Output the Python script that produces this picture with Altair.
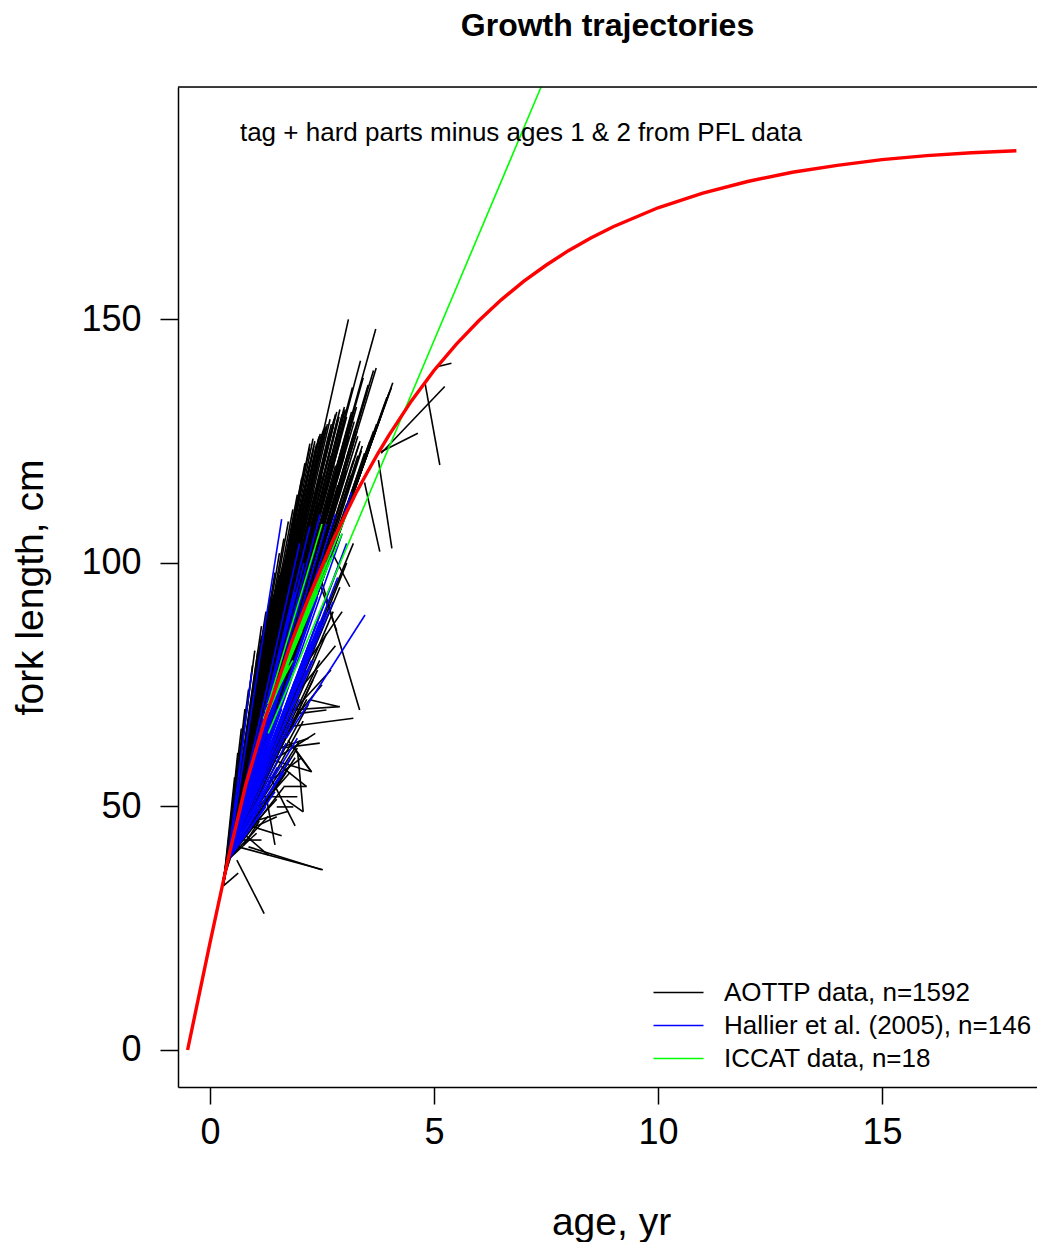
import altair as alt
import pandas as pd

# ---------------- data ----------------
# Red growth curve (age, fork length)
curve_age = [-0.5, 0.0, 0.4, 0.8, 1.25, 1.8, 2.2, 2.75, 3.25, 3.5, 3.75, 4.0, 4.5, 5.0,
             5.5, 6.0, 6.5, 7.0, 7.5, 8.0, 8.5, 9.0, 10.0, 11.0, 12.0, 13.0, 14.0,
             15.0, 16.0, 17.0, 18.0]
curve_len = [0.0, 22.0, 39.0, 54.5, 68.5, 83.3, 92.8, 104.7, 114.2, 118.4, 122.5, 126.3,
             133.3, 139.5, 144.9, 149.7, 154.0, 157.8, 161.1, 164.1, 166.7, 169.0, 172.9,
             175.9, 178.3, 180.2, 181.6, 182.8, 183.6, 184.2, 184.6]

# AOTTP trajectories: start age, start length, end age, end length
aottp_x0 = [0.40, 0.45, 0.40, 0.50, 0.40, 0.45, 0.35, 0.40, 0.50, 0.40, 0.45, 0.40,
            0.35, 0.45, 0.40, 0.50, 0.40, 0.45, 0.40, 0.35, 0.45, 0.40, 0.50, 0.40,
            0.45, 0.40, 0.35, 0.40, 0.45, 0.40, 0.50, 0.40, 0.45, 0.40, 0.35, 0.40,
            0.45, 0.40, 0.50, 0.40, 0.45, 0.40, 0.35, 0.40, 0.45, 0.40, 0.50, 0.40,
            0.40, 0.35, 0.40, 0.45, 0.40, 0.50, 0.40, 0.45, 0.40, 0.40,
            0.55, 0.30, 0.55, 0.30, 0.55, 0.30, 0.55, 0.30, 0.55, 0.30, 0.55, 0.30,
            0.55, 0.30, 0.55, 0.30, 0.55, 0.30, 0.55, 0.30, 0.55, 0.30, 0.55, 0.30,
            0.55, 0.30, 0.55, 0.30, 0.55, 0.30, 0.55, 0.30, 0.55, 0.30, 0.55, 0.30,
            0.55, 0.30, 0.55, 0.30,
            0.40, 0.45, 0.40, 0.50, 0.40, 0.45, 0.40, 0.50, 0.40, 0.45, 0.40, 0.50,
            0.40, 0.45, 0.40, 0.50, 0.40, 0.45, 0.40, 0.45,
            0.30, 0.35, 0.30, 0.35, 0.30, 0.35, 0.30, 0.35, 0.30, 0.35, 0.30, 0.35,
            0.30, 0.35, 0.30, 0.35, 0.30, 0.35, 0.30, 0.35,
            0.40, 0.45, 0.40, 0.50, 0.40, 0.45, 0.40, 0.50, 0.40, 0.45, 0.40, 0.45,
            0.40, 0.50, 0.40, 0.45, 0.40, 0.50, 0.40, 0.45,
            0.60, 0.75, 0.60, 0.75, 0.60, 0.90, 0.75, 0.60, 0.90, 0.75, 0.60, 0.90,
            0.75, 0.60, 0.90, 0.75,
            0.40, 0.45, 0.40, 0.50, 0.40, 0.45, 0.40, 0.50, 0.40, 0.45, 0.40, 0.40,
            0.40, 0.45, 0.40, 0.50, 0.40, 0.45, 0.40, 0.40,
            0.86, 0.60, 0.30, 1.27, 1.00, 0.71, 1.71, 1.41, 1.64, 1.49, 1.79, 2.23,
            2.00, 2.45, 3.45, 3.76, 4.80, 3.82, 3.82, 5.09, 2.62, 0.63, 1.74, 1.96,
            1.59, 1.86, 1.79, 2.40,
            0.90, 1.10, 1.30, 1.20, 1.50, 1.60, 1.00, 1.35, 1.70, 1.90, 2.00, 2.20,
            0.80, 0.75, 1.55]
aottp_y0 = [39.0, 41.0, 39.0, 43.5, 39.0, 41.0, 37.0, 39.0, 43.5, 39.0, 41.0, 39.0,
            37.0, 41.0, 39.0, 43.5, 39.0, 41.0, 39.0, 37.0, 41.0, 39.0, 43.5, 39.0,
            41.0, 39.0, 37.0, 39.0, 41.0, 39.0, 43.5, 39.0, 41.0, 39.0, 37.0, 39.0,
            41.0, 39.0, 43.5, 39.0, 41.0, 39.0, 37.0, 39.0, 41.0, 39.0, 43.5, 39.0,
            39.0, 37.0, 39.0, 41.0, 39.0, 43.5, 39.0, 41.0, 39.0, 39.0,
            45.5, 35.0, 45.5, 35.0, 45.5, 35.0, 45.5, 35.0, 45.5, 35.0, 45.5, 35.0,
            45.5, 35.0, 45.5, 35.0, 45.5, 35.0, 45.5, 35.0, 45.5, 35.0, 45.5, 35.0,
            45.5, 35.0, 45.5, 35.0, 45.5, 35.0, 45.5, 35.0, 45.5, 35.0, 45.5, 35.0,
            45.5, 35.0, 45.5, 35.0,
            39.0, 41.0, 39.0, 43.5, 39.0, 41.0, 39.0, 43.5, 39.0, 41.0, 39.0, 43.5,
            39.0, 41.0, 39.0, 43.5, 39.0, 41.0, 39.0, 41.0,
            34.0, 36.5, 34.0, 36.5, 34.0, 36.5, 34.0, 36.5, 34.0, 36.5, 34.0, 36.5,
            34.0, 36.5, 34.0, 36.5, 34.0, 36.5, 34.0, 36.5,
            39.0, 41.0, 39.0, 43.5, 39.0, 41.0, 39.0, 43.5, 39.0, 41.0, 39.0, 41.0,
            39.0, 43.5, 39.0, 41.0, 39.0, 43.5, 39.0, 41.0,
            47.0, 52.0, 47.0, 52.0, 47.0, 57.0, 52.0, 47.0, 57.0, 52.0, 47.0, 57.0,
            52.0, 47.0, 57.0, 52.0,
            39.0, 41.0, 39.0, 43.5, 39.0, 41.0, 39.0, 43.5, 39.0, 41.0, 39.0, 39.0,
            39.0, 41.0, 39.0, 43.5, 39.0, 41.0, 39.0, 39.0,
            41.7, 39.0, 33.7, 51.3, 45.8, 43.1, 51.3, 59.5, 54.1, 49.9, 66.4, 71.9,
            69.1, 97.5, 116.5, 121.1, 136.9, 122.5, 122.8, 140.3, 104.0, 41.7, 63.6, 60.9,
            58.2, 62.3, 69.8, 97.0,
            46.0, 50.0, 55.0, 52.0, 60.0, 62.0, 47.0, 56.0, 66.0, 70.0, 74.0, 80.0,
            44.0, 42.0, 62.0]
aottp_x1 = [0.85, 0.95, 1.02, 1.07, 1.15, 1.23, 1.30, 1.38, 1.45, 1.52, 1.60, 1.67,
            1.74, 1.80, 1.87, 1.94, 1.98, 2.03, 2.08, 2.12, 2.16, 2.20, 2.25, 2.30,
            2.34, 2.38, 2.42, 2.46, 2.52, 2.57, 2.62, 2.66, 2.68, 2.75, 2.80, 2.85,
            2.90, 2.95, 3.00, 3.05, 3.13, 3.20, 3.24, 3.27, 3.30, 3.35, 3.40, 3.45,
            3.09, 3.70, 3.36, 3.71, 3.53, 3.65, 3.50, 3.18, 3.42, 2.23,
            0.90, 1.00, 1.10, 1.18, 1.27, 1.34, 1.42, 1.49, 1.56, 1.63, 1.70, 1.77,
            1.84, 1.90, 1.96, 2.01, 2.06, 2.10, 2.14, 2.18, 2.22, 2.27, 2.32, 2.36,
            2.44, 2.49, 2.54, 2.60, 2.71, 2.77, 2.83, 2.88, 2.98, 3.02, 3.10, 3.16,
            3.22, 3.28, 3.33, 3.38,
            1.60, 1.80, 2.00, 2.20, 2.40, 2.60, 2.80, 3.00, 3.20, 1.50, 1.75, 1.95,
            2.15, 2.35, 2.55, 2.75, 2.95, 3.15, 1.40, 1.25,
            0.55, 0.62, 0.70, 0.78, 0.86, 0.95, 1.00, 1.15, 1.25, 1.34, 1.45, 1.55,
            1.65, 1.75, 1.85, 1.95, 2.05, 2.12, 2.22, 2.30,
            1.30, 1.45, 1.65, 1.85, 2.05, 2.25, 2.45, 2.65, 2.85, 3.05, 3.30, 2.50,
            2.70, 2.90, 3.10, 1.20, 1.05, 2.00, 2.15, 2.32,
            4.08, 4.05, 4.00, 3.95, 3.90, 3.85, 3.79, 3.72, 3.65, 3.57, 3.50, 3.42,
            3.35, 3.25, 3.15, 3.05,
            2.60, 2.45, 2.30, 2.16, 2.08, 2.00, 1.90, 1.79, 1.65, 1.49, 1.30, 1.04,
            2.75, 2.90, 3.05, 3.20, 2.40, 2.20, 1.95, 1.70,
            2.49, 1.21, 0.63, 1.45, 1.49, 1.15, 2.08, 2.27, 2.16, 1.86, 3.20, 2.86,
            2.60, 3.34, 3.79, 4.06, 5.13, 5.24, 4.64, 5.39, 3.12, 2.52, 2.26, 2.08,
            2.15, 2.27, 2.90, 2.83,
            1.60, 1.80, 2.05, 1.95, 2.35, 2.45, 1.75, 1.90, 2.50, 2.70, 2.80, 2.95,
            1.30, 1.10, 2.20]
aottp_y1 = [62.0, 70.0, 76.0, 82.0, 85.0, 88.0, 90.0, 92.5, 94.0, 96.5, 98.5, 100.5,
            102.5, 104.5, 106.5, 109.0, 110.5, 112.0, 113.5, 115.0, 117.0, 119.0, 121.0, 123.0,
            125.0, 124.5, 125.5, 126.5, 127.0, 128.0, 128.5, 126.5, 129.5, 128.0, 130.5, 129.5,
            131.5, 130.5, 132.0, 130.0, 129.5, 130.0, 127.5, 132.0, 126.0, 125.0, 124.0, 122.5,
            150.0, 148.0, 141.5, 140.0, 136.5, 139.5, 135.0, 136.0, 138.0, 124.5,
            66.0, 74.0, 80.0, 84.0, 89.0, 90.5, 93.5, 95.0, 97.5, 99.5, 101.5, 103.5,
            105.5, 107.5, 109.5, 111.0, 112.5, 114.5, 116.0, 118.0, 120.0, 122.0, 124.0, 123.5,
            126.0, 126.5, 127.5, 128.0, 128.5, 129.5, 131.0, 130.0, 131.0, 131.5, 128.5, 131.0,
            129.0, 127.0, 124.5, 123.0,
            90.0, 95.0, 100.0, 106.0, 112.0, 116.0, 120.0, 122.0, 121.0, 86.0, 92.0, 97.0,
            102.0, 106.0, 110.0, 114.0, 117.0, 118.0, 82.0, 78.0,
            56.0, 61.0, 66.0, 70.0, 74.0, 79.0, 82.0, 87.0, 90.0, 93.0, 98.0, 102.0,
            105.0, 108.5, 111.0, 114.0, 117.5, 120.5, 123.5, 125.5,
            80.0, 84.0, 88.0, 93.0, 98.0, 104.0, 108.0, 112.0, 116.0, 119.0, 122.0, 118.0,
            122.0, 125.0, 126.0, 74.0, 70.0, 106.0, 110.0, 115.0,
            137.0, 136.0, 135.0, 134.0, 132.5, 131.0, 129.5, 128.5, 127.0, 125.0, 122.0, 120.0,
            118.5, 116.0, 114.0, 112.0,
            85.5, 80.0, 76.0, 72.0, 67.5, 63.5, 60.0, 57.0, 54.0, 51.5, 48.0, 44.5,
            90.0, 95.0, 100.0, 104.0, 78.0, 71.0, 62.0, 57.0,
            37.0, 28.0, 36.3, 42.1, 47.9, 43.1, 48.9, 57.1, 54.1, 49.9, 68.1, 70.5,
            69.8, 69.8, 102.3, 103.0, 120.1, 136.2, 126.6, 141.0, 95.1, 37.0, 57.1, 48.9,
            54.1, 57.1, 70.5, 86.0,
            44.0, 58.5, 60.0, 52.0, 65.0, 63.0, 49.0, 46.0, 75.0, 78.0, 83.0, 90.0,
            40.0, 47.0, 64.0]

# Hallier et al. (2005) trajectories
hallier_x0 = [0.40, 0.40, 0.45, 0.40, 0.45, 0.40, 0.50, 0.40, 0.45, 0.40, 0.50, 0.40,
              0.45, 0.40, 0.40, 0.45, 0.40, 0.50, 0.40, 0.45, 0.40, 0.45, 0.40, 0.40,
              0.45, 0.40, 0.50, 0.40, 0.45, 0.40, 0.40, 0.45, 0.40, 0.40, 0.45, 0.40,
              0.40, 0.40, 1.70, 1.79, 0.40, 0.45, 0.40, 0.40,
              0.40, 0.45, 0.40, 0.45, 0.40, 0.45, 0.40, 0.45, 0.40]
hallier_y0 = [39.0, 39.0, 41.0, 39.0, 41.0, 39.0, 43.5, 39.0, 41.0, 39.0, 43.5, 39.0,
              41.0, 39.0, 39.0, 41.0, 39.0, 43.5, 39.0, 41.0, 39.0, 41.0, 39.0, 39.0,
              41.0, 39.0, 43.5, 39.0, 41.0, 39.0, 39.0, 41.0, 39.0, 39.0, 41.0, 39.0,
              39.0, 39.0, 64.0, 70.0, 39.0, 41.0, 39.0, 39.0,
              39.0, 41.0, 39.0, 41.0, 39.0, 41.0, 39.0, 41.0, 39.0]
hallier_x1 = [0.93, 1.60, 0.74, 2.00, 2.23, 2.46, 2.10, 1.90, 2.35, 2.60, 2.80, 3.16,
              3.05, 2.95, 3.05, 2.90, 2.68, 2.75, 2.50, 2.30, 2.15, 2.00, 1.85, 1.70,
              1.50, 1.34, 2.20, 1.95, 1.75, 2.55, 1.50, 1.35, 2.40, 2.85, 1.65, 1.25,
              1.60, 1.90, 3.46, 2.27, 2.20, 2.45, 1.30, 1.10,
              1.45, 1.65, 1.80, 1.95, 1.25, 2.60, 2.25, 1.55, 2.05]
hallier_y1 = [77.5, 109.0, 63.5, 104.0, 107.5, 110.0, 100.0, 94.0, 103.0, 108.0, 110.0, 114.5,
              111.0, 106.0, 104.0, 100.0, 95.0, 92.0, 88.0, 80.0, 78.0, 72.0, 68.0, 63.0,
              58.0, 54.5, 88.0, 85.0, 82.0, 98.0, 70.0, 64.0, 93.0, 97.0, 78.0, 67.0,
              70.0, 76.0, 89.3, 80.0, 83.0, 88.0, 60.0, 56.0,
              53.0, 57.0, 60.0, 64.0, 50.0, 90.0, 84.0, 66.0, 79.0]

# ICCAT trajectories
iccat_x0 = [1.30, 1.20, 1.25, 1.15, 1.30, 1.20, 1.25, 1.15, 1.30, 1.20, 1.25, 1.30,
            1.20, 1.25, 1.15, 1.30, 1.20, 1.25]
iccat_y0 = [65.0, 68.0, 69.5, 66.0, 71.0, 68.0, 69.5, 66.0, 71.0, 68.0, 69.5, 71.0,
            68.0, 69.5, 66.0, 71.0, 68.0, 69.5]
iccat_x1 = [7.39, 2.90, 2.75, 2.60, 2.35, 2.15, 1.95, 1.75, 2.50, 2.25, 2.95, 1.55,
            2.70, 3.05, 2.40, 2.05, 1.40, 1.85]
iccat_y1 = [197.7, 108.0, 105.0, 100.0, 94.0, 89.0, 84.0, 79.0, 108.0, 93.0, 106.0, 75.0,
            101.0, 110.0, 94.0, 86.0, 73.0, 80.0]

series_names = ["AOTTP data, n=1592", "Hallier et al. (2005), n=146", "ICCAT data, n=18"]
series_colors = ["#000000", "#0000FF", "#00FF00"]

x_ticks = [0, 5, 10, 15]
y_ticks = [0, 50, 100, 150]
note_text = "tag + hard parts minus ages 1 & 2 from PFL data"
note_x = [6.94]
note_y = [188.3]

# ---------------- build tables ----------------
rows = []
for name, xs0, ys0, xs1, ys1 in [
    (series_names[0], aottp_x0, aottp_y0, aottp_x1, aottp_y1),
    (series_names[1], hallier_x0, hallier_y0, hallier_x1, hallier_y1),
    (series_names[2], iccat_x0, iccat_y0, iccat_x1, iccat_y1),
]:
    for a, b, c, d in zip(xs0, ys0, xs1, ys1):
        rows.append({"x0": a, "y0": b, "x1": c, "y1": d, "series": name})
seg_df = pd.DataFrame(rows)
curve_df = pd.DataFrame({"age": curve_age, "len": curve_len, "i": range(len(curve_age))})
note_df = pd.DataFrame({"x": note_x, "y": note_y, "t": [note_text]})

FONT = "Liberation Sans"
W, H = 859, 1000
xscale = alt.Scale(domain=[-0.714, 18.46], nice=False, zero=False)
yscale = alt.Scale(domain=[-7.6, 197.7], nice=False, zero=False)

xaxis = alt.Axis(values=x_ticks, title="age, yr", grid=False, labelFont=FONT, labelFontSize=36,
                 labelColor="black", tickSize=17, tickWidth=1.5, tickColor="black",
                 domainColor="black", domainWidth=1.5, labelPadding=11,
                 titleFont=FONT, titleFontSize=39, titleFontWeight="normal", titleColor="black",
                 titleBaseline="alphabetic", titleY=147, titleX=433, titleAlign="center")
yaxis = alt.Axis(values=y_ticks, title="fork length, cm", grid=False, labelFont=FONT, labelFontSize=36,
                 labelColor="black", tickSize=18, tickWidth=1.5, tickColor="black",
                 domainColor="black", domainWidth=1.5, labelPadding=19, labelAngle=0,
                 titleFont=FONT, titleFontSize=39, titleFontWeight="normal", titleColor="black",
                 titleAngle=-90, titleBaseline="alphabetic", titleX=-136, titleY=H / 2,
                 titleAlign="center")

segs = alt.Chart(seg_df).mark_rule(strokeWidth=1.6).encode(
    x=alt.X("x0:Q", scale=xscale, axis=xaxis),
    y=alt.Y("y0:Q", scale=yscale, axis=yaxis),
    x2="x1:Q",
    y2="y1:Q",
    color=alt.Color("series:N", sort=series_names,
                    scale=alt.Scale(domain=series_names, range=series_colors),
                    legend=alt.Legend(title=None, orient="none", legendX=487, legendY=892,
                                      symbolType="M-2,0H2", symbolSize=625, symbolStrokeWidth=1.5,
                                      labelFont=FONT, labelFontSize=26, labelColor="black",
                                      labelOffset=32, labelLimit=600, rowPadding=6, padding=0)),
)

curve = alt.Chart(curve_df).mark_line(color="#FF0000", strokeWidth=3.4).encode(
    x=alt.X("age:Q", scale=xscale),
    y=alt.Y("len:Q", scale=yscale),
    order="i:Q",
)

note = alt.Chart(note_df).mark_text(font=FONT, fontSize=26, color="black",
                                    align="center", baseline="middle").encode(
    x=alt.X("x:Q", scale=xscale), y=alt.Y("y:Q", scale=yscale), text="t:N")

top_border = alt.Chart(note_df).mark_rule(color="black", strokeWidth=1.5).encode(
    x=alt.value(0), x2=alt.value(W), y=alt.value(0))

chart = alt.layer(segs, curve, note, top_border).properties(
    width=W, height=H,
    title=alt.TitleParams("Growth trajectories", font=FONT, fontSize=32, fontWeight="bold",
                          color="black", anchor="middle", baseline="alphabetic", offset=18),
    autosize=alt.AutoSizeParams(type="none"),
    padding={"left": 170, "top": 79, "right": 0, "bottom": 155},
).configure_view(stroke=None).configure(background="white")

chart.save("out.html", embed_options={"renderer": "svg", "actions": False})
